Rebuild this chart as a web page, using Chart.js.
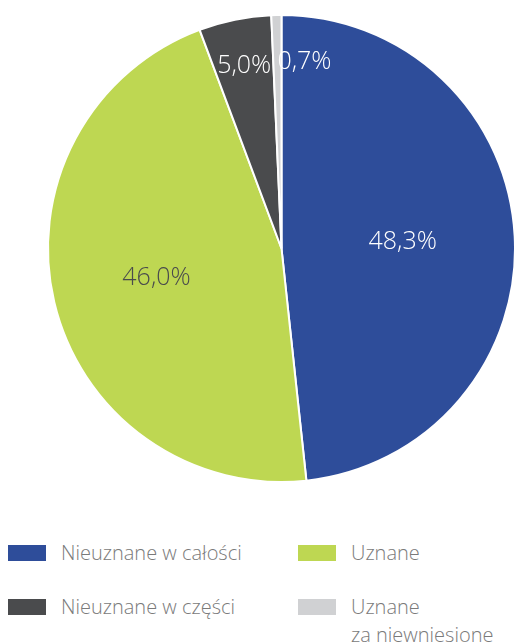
<!DOCTYPE html>
<html lang="pl">
<head>
  <meta charset="UTF-8" />
  <title>Pie chart</title>
  <style>
    body {
      margin: 0;
      background: #ffffff;
      font-family: "Open Sans", sans-serif;
      font-weight: 300;
    }
    .wrap {
      position: relative;
      width: 514px;
      height: 643px;
      overflow: hidden;
    }
    #chartBox {
      position: absolute;
      left: 0;
      top: 0;
      width: 516px;
      height: 500px;
    }
    #legend {
      position: absolute;
      left: 8px;
      top: 539px;
      width: 506px;
      display: grid;
      grid-template-columns: 290px 216px;
      row-gap: 26px;
    }
    .item {
      display: flex;
      align-items: flex-start;
      color: #7a7a7a;
      font-size: 20px;
      line-height: 28px;
    }
    .swatch {
      width: 38px;
      height: 16px;
      margin-top: 6px;
      margin-right: 15px;
      flex: none;
    }
  </style>
</head>
<body>
  <div class="wrap">
    <div id="chartBox"><canvas id="pie"></canvas></div>
    <div id="legend"></div>
  </div>

  <script src="https://cdn.jsdelivr.net/npm/chart.js"></script>
  <script>
    const categories = ['Nieuznane w całości', 'Uznane', 'Nieuznane w części', 'Uznane\nza niewniesione'];
    const values = [48.3, 46.0, 5.0, 0.7];
    const colors = ['#2e4d9a', '#bed752', '#4a4b4d', '#d0d1d3'];
    const labelColors = ['#ffffff', '#4a4b4d', '#ffffff', '#ffffff'];
    const labelRadius = [0.52, 0.55, 0.8, 0.8];
    const labelAlign = ['center', 'center', 'center', 'left'];

    // percentage labels inside slices, placed from arc geometry
    const sliceLabels = {
      id: 'sliceLabels',
      afterDatasetsDraw(chart) {
        const ctx = chart.ctx;
        const meta = chart.getDatasetMeta(0);
        ctx.save();
        ctx.font = '300 25px "Open Sans"';
        ctx.textBaseline = 'middle';
        meta.data.forEach((arc, i) => {
          const mid = (arc.startAngle + arc.endAngle) / 2;
          const r = arc.outerRadius * labelRadius[i];
          const x = arc.x + Math.cos(mid) * r;
          const y = arc.y + Math.sin(mid) * r;
          ctx.fillStyle = labelColors[i];
          ctx.textAlign = labelAlign[i];
          ctx.fillText(values[i].toFixed(1).replace('.', ',') + '%', x, y);
        });
        ctx.restore();
      }
    };

    new Chart(document.getElementById('pie'), {
      type: 'pie',
      data: {
        labels: categories,
        datasets: [{
          data: values,
          backgroundColor: colors,
          borderColor: '#ffffff',
          borderWidth: 2
        }]
      },
      options: {
        responsive: true,
        maintainAspectRatio: false,
        animation: false,
        layout: { padding: { left: 47, right: 0, top: 14, bottom: 17 } },
        plugins: {
          legend: { display: false },
          tooltip: { enabled: false }
        }
      },
      plugins: [sliceLabels]
    });

    const legend = document.getElementById('legend');
    categories.forEach((name, i) => {
      const item = document.createElement('div');
      item.className = 'item';
      const sw = document.createElement('span');
      sw.className = 'swatch';
      sw.style.background = colors[i];
      const txt = document.createElement('span');
      txt.innerHTML = name.split('\n').join('<br>');
      item.appendChild(sw);
      item.appendChild(txt);
      legend.appendChild(item);
    });
  </script>
</body>
</html>
